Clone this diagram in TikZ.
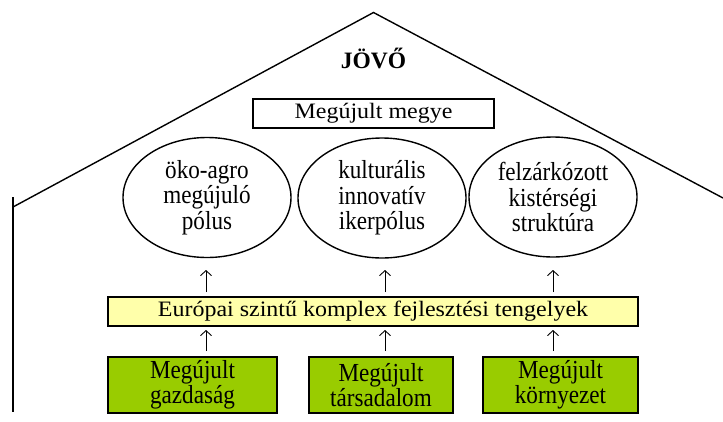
\documentclass[tikz,border=0pt]{standalone}
\usepackage{fontspec}
\setmainfont{Liberation Serif}
\newfontfamily\narrowface[FakeStretch=0.89]{Liberation Serif}
\newfontfamily\wideface[FakeStretch=1.09]{Liberation Serif}
\usetikzlibrary{shapes.geometric,arrows.meta}
\definecolor{barfill}{RGB}{255,255,170}
\definecolor{basefill}{RGB}{153,204,0}
\begin{document}
\begin{tikzpicture}[x=1pt,y=-1pt,
  tall/.style={font=\narrowface\fontsize{26}{25.5}\selectfont, align=center, inner sep=0pt},
  wide/.style={font=\wideface\fontsize{22}{25}\selectfont, align=center, inner sep=0pt},
  pole/.style={tall, ellipse, draw, line width=1.4pt, minimum width=168pt, minimum height=120pt},
  box/.style={wide, draw, line width=2pt, minimum height=29pt},
  basebox/.style={tall, draw, line width=2pt, fill=basefill, minimum height=56pt},
  roof/.style={line width=1.4pt},
  up/.style={line width=0.9pt, -{Straight Barb[length=5pt,width=11pt]}}
]
\useasboundingbox (0,0) rectangle (723,421);
% roof and wall
\coordinate (apex) at (373.5,12.5);
\coordinate (lft) at (13,207);
\coordinate (rgt) at (723,198);
\coordinate (walltop) at (13,197);
\coordinate (wallbot) at (13,412);
\draw[roof] (lft) -- (apex) -- (rgt);
\draw[roof] (walltop) -- (wallbot);
% title
\node[inner sep=0pt, font=\fontsize{23.5}{26}\selectfont\bfseries] (title) at (373.5,58) {JÖVŐ};
\node[box, minimum width=241pt] (megye) at (373.5,113.5) {Megújult megye};
% poles
\node[pole] (e1) at (207,197.5) {öko-agro\\megújuló\\pólus};
\node[pole] (e2) at (382,198) {kulturális\\innovatív\\ikerpólus};
\node[pole] (e3) at (553,197) {felzárkózott\\kistérségi\\struktúra};
% axis bar
\node[box, fill=barfill, minimum width=530pt] (bar) at (373,311.5) {Európai szintű komplex fejlesztési tengelyek};
% base boxes
\node[basebox, minimum width=169pt] (b1) at (192.5,385) {Megújult\\gazdaság};
\node[basebox, minimum width=144pt] (b2) at (381,385) {Megújult\\társadalom};
\node[basebox, minimum width=155pt] (b3) at (560.5,385) {Megújult\\környezet};
% arrows
\coordinate (u1s) at (206,292); \coordinate (u1e) at (206,270);
\coordinate (u2s) at (385,292); \coordinate (u2e) at (385,270);
\coordinate (u3s) at (553,292); \coordinate (u3e) at (553,270);
\coordinate (l1s) at (206,351); \coordinate (l1e) at (206,330);
\coordinate (l2s) at (385,351); \coordinate (l2e) at (385,330);
\coordinate (l3s) at (553,351); \coordinate (l3e) at (553,330);
\draw[up] (u1s) -- (u1e);
\draw[up] (u2s) -- (u2e);
\draw[up] (u3s) -- (u3e);
\draw[up] (l1s) -- (l1e);
\draw[up] (l2s) -- (l2e);
\draw[up] (l3s) -- (l3e);
\end{tikzpicture}
\end{document}
